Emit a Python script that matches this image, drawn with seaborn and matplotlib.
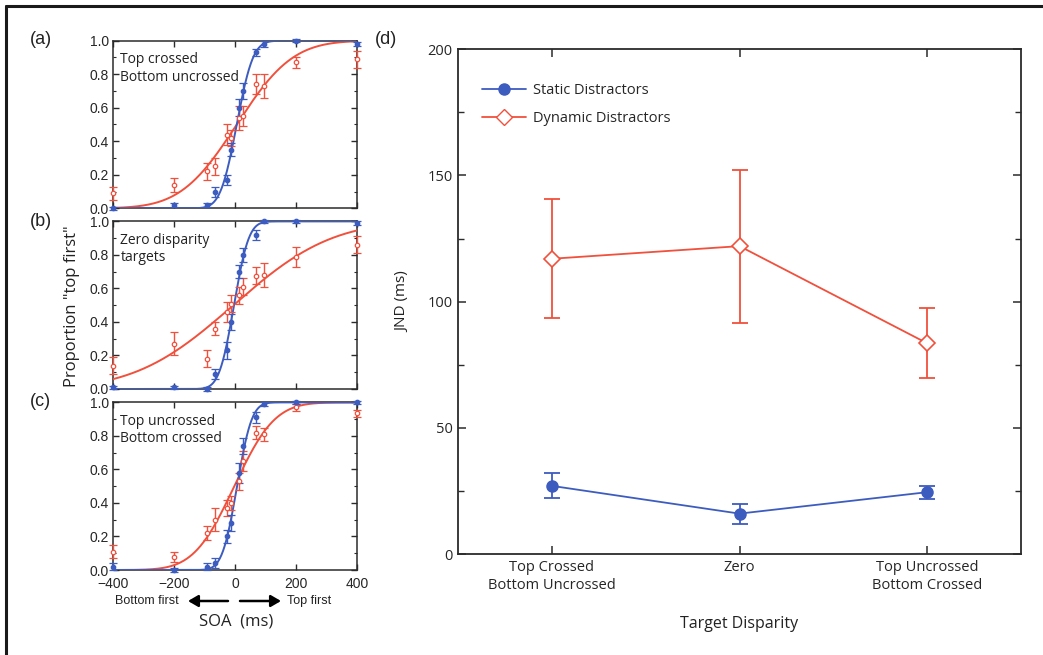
import math
import numpy as np
import pandas as pd
import matplotlib
matplotlib.use("Agg")
import matplotlib.pyplot as plt
from matplotlib.lines import Line2D
import seaborn as sns

sns.set_style("ticks")
plt.rcParams["font.family"] = ["Open Sans", "DejaVu Sans"]

BLUE = "#3d5cbf"
RED = "#f0503c"
SPINE = "#2b2b2b"

# ---- psychometric data (proportion "top first") ----
soa = [-400, -200, -93, -67, -27, -13, 13, 27, 67, 93, 200, 400]

a_static = [0.00, 0.02, 0.02, 0.10, 0.17, 0.35, 0.60, 0.70, 0.93, 0.98, 1.00, 0.98]
a_static_err = [0.01, 0.01, 0.01, 0.03, 0.03, 0.04, 0.05, 0.05, 0.02, 0.02, 0.01, 0.01]
a_dynamic = [0.09, 0.14, 0.22, 0.25, 0.44, 0.42, 0.54, 0.55, 0.74, 0.73, 0.87, 0.89]
a_dynamic_err = [0.04, 0.04, 0.05, 0.05, 0.06, 0.05, 0.07, 0.06, 0.06, 0.07, 0.03, 0.05]

b_static = [0.01, 0.01, 0.00, 0.09, 0.23, 0.40, 0.70, 0.80, 0.92, 1.00, 1.00, 0.99]
b_static_err = [0.01, 0.01, 0.01, 0.03, 0.05, 0.05, 0.04, 0.04, 0.03, 0.01, 0.01, 0.01]
b_dynamic = [0.14, 0.27, 0.18, 0.36, 0.46, 0.51, 0.56, 0.61, 0.675, 0.68, 0.785, 0.86]
b_dynamic_err = [0.05, 0.07, 0.05, 0.04, 0.06, 0.05, 0.05, 0.05, 0.05, 0.07, 0.06, 0.05]

c_static = [0.02, 0.00, 0.02, 0.04, 0.20, 0.28, 0.58, 0.74, 0.91, 0.99, 1.00, 1.00]
c_static_err = [0.02, 0.01, 0.02, 0.03, 0.04, 0.05, 0.06, 0.05, 0.03, 0.01, 0.01, 0.01]
c_dynamic = [0.11, 0.08, 0.22, 0.30, 0.37, 0.40, 0.53, 0.65, 0.82, 0.81, 0.97, 0.935]
c_dynamic_err = [0.04, 0.03, 0.04, 0.07, 0.05, 0.04, 0.05, 0.06, 0.04, 0.04, 0.02, 0.02]

panel_notes = ["Top crossed\nBottom uncrossed", "Zero disparity\ntargets",
               "Top uncrossed\nBottom crossed"]
panel_tags = ["(a)", "(b)", "(c)"]

# ---- JND summary ----
disparity = ["Top Crossed\nBottom Uncrossed", "Zero", "Top Uncrossed\nBottom Crossed"]
jnd_static = [27.0, 16.0, 24.5]
jnd_static_lo = [22.3, 12.0, 21.8]
jnd_static_hi = [32.2, 19.8, 27.0]
jnd_dynamic = [117.0, 122.0, 83.5]
jnd_dynamic_lo = [93.5, 91.7, 69.7]
jnd_dynamic_hi = [140.5, 152.0, 97.4]

_erf = np.frompyfunc(math.erf, 1, 1)


def cum_gauss(x, mu, sigma):
    return 0.5 * (1.0 + _erf((np.asarray(x, float) - mu) / (sigma * math.sqrt(2))).astype(float))


def fit_cum_gauss(x, y):
    x = np.asarray(x, float)
    y = np.asarray(y, float)
    best = (np.inf, 0.0, 100.0)
    for mu in np.arange(-60, 61, 1.0):
        for sigma in np.arange(10, 401, 2.0):
            sse = np.sum((cum_gauss(x, mu, sigma) - y) ** 2)
            if sse < best[0]:
                best = (sse, mu, sigma)
    return best[1], best[2]


W, H = 1043, 655
fig = plt.figure(figsize=(W / 100, H / 100), dpi=100)

tick_font = ["Liberation Sans", "DejaVu Sans"]

small_axes = []
bottoms = [1 - 208.3 / H, 1 - 389.0 / H, 1 - 570.0 / H]
for i in range(3):
    ax = fig.add_axes([113 / W, bottoms[i], 244.4 / W, 167.6 / H])
    small_axes.append(ax)

series = [
    (a_static, a_static_err, a_dynamic, a_dynamic_err),
    (b_static, b_static_err, b_dynamic, b_dynamic_err),
    (c_static, c_static_err, c_dynamic, c_dynamic_err),
]

grid = np.linspace(-400, 400, 801)
for i, (ax, (st, ste, dy, dye)) in enumerate(zip(small_axes, series)):
    for vals, errs, col, filled in [(dy, dye, RED, False), (st, ste, BLUE, True)]:
        mu, sigma = fit_cum_gauss(soa, vals)
        sns.lineplot(x=grid, y=cum_gauss(grid, mu, sigma), ax=ax, color=col,
                     linewidth=1.4, zorder=3)
        ax.errorbar(soa, vals, yerr=errs, fmt="o", color=col, ms=3.2,
                    mfc=col if filled else "white", mec=col, mew=0.9,
                    elinewidth=1.0, capsize=3, capthick=1.0, zorder=4,
                    clip_on=False)
    ax.set_xlim(-400, 400)
    ax.set_ylim(0, 1.0)
    ax.set_xticks([-400, -200, 0, 200, 400])
    ax.set_yticks([0, 0.2, 0.4, 0.6, 0.8, 1.0])
    ax.set_yticklabels(["0.0", "0.2", "0.4", "0.6", "0.8", "1.0"], family=tick_font)
    ax.set_yticks(np.arange(0.1, 1.0, 0.2), minor=True)
    ax.tick_params(direction="in", top=True, right=True, length=4, width=1,
                   labelsize=10, pad=3, color=SPINE)
    ax.tick_params(which="minor", direction="in", left=True, right=True, length=2.5, width=0.8,
                   color=SPINE)
    if i < 2:
        ax.set_xticklabels([])
    else:
        ax.set_xticklabels(["\u2212400", "\u2212200", "0", "200", "400"], family=tick_font)
        ax.tick_params(axis="x", labelsize=10, pad=5)
    ax.set_xlabel("")
    ax.set_ylabel("")
    for s in ax.spines.values():
        s.set_color(SPINE)
        s.set_linewidth(1.1)
    ax.text(0.03, 0.93, panel_notes[i], transform=ax.transAxes, ha="left", va="top",
            fontsize=10, color="#222222", linespacing=1.2)
    fig.text(30 / W, 1 - (40 + i * 181) / H, panel_tags[i], fontsize=13,
             family=tick_font, ha="left", va="center", color="#222222")

fig.text(72 / W, 1 - 306 / H, "Proportion \"top first\"", rotation=90, fontsize=12,
         ha="center", va="center", color="#222222")
fig.text(236 / W, 1 - 622 / H, "SOA  (ms)", fontsize=12, ha="center", va="center",
         color="#222222")
fig.text(115 / W, 1 - 601 / H, "Bottom first", fontsize=9, family=tick_font,
         ha="left", va="center", color="#222222")
fig.text(287 / W, 1 - 601 / H, "Top first", fontsize=9, family=tick_font,
         ha="left", va="center", color="#222222")
for tail, head in [(228, 188), (240, 281)]:
    fig.add_artist(matplotlib.patches.FancyArrowPatch(
        (tail / W, 1 - 601 / H), (head / W, 1 - 601 / H), transform=fig.transFigure,
        arrowstyle="-|>,head_length=6,head_width=3.5", color="black", lw=1.8,
        shrinkA=0, shrinkB=0))

# ---- panel (d) ----
axd = fig.add_axes([458 / W, 1 - 554 / H, 563 / W, 504.7 / H])
pos = np.arange(len(disparity))
df = pd.DataFrame({
    "pos": np.concatenate([pos, pos]),
    "jnd": jnd_static + jnd_dynamic,
    "cond": ["Static Distractors"] * 3 + ["Dynamic Distractors"] * 3,
})
sns.lineplot(data=df, x="pos", y="jnd", hue="cond",
             palette={"Static Distractors": BLUE, "Dynamic Distractors": RED},
             ax=axd, linewidth=1.3, legend=False, zorder=3)

for vals, lo, hi, col in [(jnd_static, jnd_static_lo, jnd_static_hi, BLUE),
                          (jnd_dynamic, jnd_dynamic_lo, jnd_dynamic_hi, RED)]:
    v = np.array(vals)
    yerr = np.vstack([v - np.array(lo), np.array(hi) - v])
    axd.errorbar(pos, v, yerr=yerr, fmt="none", ecolor=col, elinewidth=1.3,
                 capsize=6, capthick=1.3, zorder=4)

axd.plot(pos, jnd_static, "o", color=BLUE, ms=8, zorder=5)
axd.plot(pos, jnd_dynamic, "D", color=RED, mfc="white", mec=RED, ms=8, mew=1.2, zorder=5)

axd.set_xlim(-0.5, 2.5)
axd.set_ylim(0, 200)
axd.set_xticks(pos)
axd.set_xticklabels(disparity, fontsize=10.5, linespacing=1.35)
axd.set_yticks([0, 50, 100, 150, 200])
axd.set_yticks([25, 75, 125, 175], minor=True)
axd.tick_params(direction="in", top=True, right=True, length=6, width=1.1,
                labelsize=10.5, color=SPINE, pad=4)
axd.tick_params(which="minor", direction="in", left=True, right=True, length=4,
                width=1.0, color=SPINE)
axd.set_xlabel("Target Disparity", fontsize=11.5, labelpad=16, color="#222222")
axd.set_ylabel("JND (ms)", fontsize=11, labelpad=12, color="#222222")
for s in axd.spines.values():
    s.set_color(SPINE)
    s.set_linewidth(1.3)

handles = [
    Line2D([0], [0], color=BLUE, marker="o", ms=8, lw=1.3, label="Static Distractors"),
    Line2D([0], [0], color=RED, marker="D", mfc="white", mec=RED, ms=8, lw=1.3,
           label="Dynamic Distractors"),
]
axd.legend(handles=handles, loc="upper left", bbox_to_anchor=(0.02, 0.96), frameon=False,
           fontsize=10.5, handlelength=3.0, handletextpad=0.5, labelspacing=0.95)
fig.text(375 / W, 1 - 40 / H, "(d)", fontsize=13, family=tick_font, ha="left",
         va="center", color="#222222")

# outer frame lines (top and left)
fig.add_artist(Line2D([6 / W, 1.0], [1 - 6 / H, 1 - 6 / H], transform=fig.transFigure,
                      color="#1a1a1a", lw=2.2))
fig.add_artist(Line2D([6 / W, 6 / W], [0.0, 1 - 6 / H], transform=fig.transFigure,
                      color="#1a1a1a", lw=2.2))

fig.savefig("out.png", dpi=100)
